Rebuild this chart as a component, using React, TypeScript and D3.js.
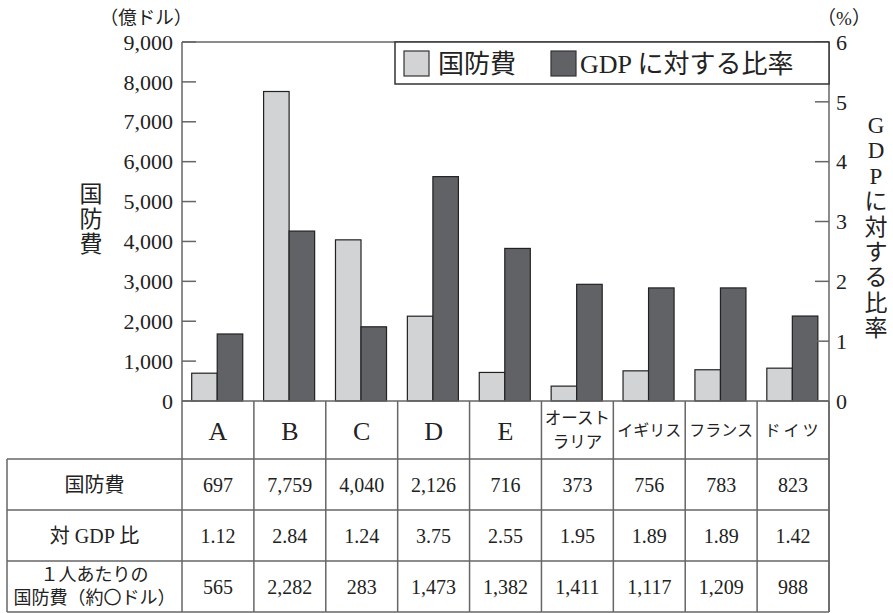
import { useEffect, useRef } from "react";
import * as d3 from "d3";

// data
const categories = ["A", "B", "C", "D", "E", "オーストラリア", "イギリス", "フランス", "ドイツ"];
const defense = [697, 7759, 4040, 2126, 716, 373, 756, 783, 823]; // 億ドル
const gdpRatio = [1.12, 2.84, 1.24, 3.75, 2.55, 1.95, 1.89, 1.89, 1.42]; // %
const perCapita = [565, 2282, 283, 1473, 1382, 1411, 1117, 1209, 988]; // ドル
const leftTicks = [0, 1000, 2000, 3000, 4000, 5000, 6000, 7000, 8000, 9000];
const rightTicks = [0, 1, 2, 3, 4, 5, 6];

const W = 893;
const H = 613;
const FONT = "'Liberation Serif', 'DejaVu Serif', 'Noto Sans CJK JP', serif";
const LIGHT = "#d2d3d5";
const DARK = "#616266";
const LINE = "#666";

export default function App() {
    const ref = useRef<SVGSVGElement | null>(null);

    useEffect(() => {
        document.body.style.margin = "0";
        if (!ref.current) return;
        const svg = d3.select(ref.current);
        svg.selectAll("*").remove();

        const left = 182, right = 829, top = 42, base = 401;
        const rowY = [459, 510, 561, 612];
        const tableLeft = 7;

        const x = d3.scaleBand<string>().domain(categories).range([left, right]).padding(0);
        const bw = x.bandwidth();
        const yL = d3.scaleLinear().domain([0, 9000]).range([base, top]);
        const yR = d3.scaleLinear().domain([0, 6]).range([base, top]);

        const g = svg.append("g").attr("font-family", FONT).attr("fill", "#222");

        // bars
        const barW = bw * 0.355;
        g.selectAll("rect.def")
            .data(categories)
            .enter()
            .append("rect")
            .attr("x", (d) => x(d)! + bw * 0.135)
            .attr("y", (d, i) => yL(defense[i]))
            .attr("width", barW)
            .attr("height", (d, i) => base - yL(defense[i]))
            .attr("fill", LIGHT)
            .attr("stroke", "#222")
            .attr("stroke-width", 1.2);
        g.selectAll("rect.gdp")
            .data(categories)
            .enter()
            .append("rect")
            .attr("x", (d) => x(d)! + bw * 0.135 + barW)
            .attr("y", (d, i) => yR(gdpRatio[i]))
            .attr("width", barW)
            .attr("height", (d, i) => base - yR(gdpRatio[i]))
            .attr("fill", DARK)
            .attr("stroke", "#222")
            .attr("stroke-width", 1.2);

        const line = (x1: number, y1: number, x2: number, y2: number, w = 1.5) =>
            g.append("line")
                .attr("x1", x1).attr("y1", y1).attr("x2", x2).attr("y2", y2)
                .attr("stroke", LINE).attr("stroke-width", w);

        // frame / axes
        line(left, top, right, top);
        line(left, top, left, rowY[3]);
        line(right, top, right, rowY[3]);
        line(left, base, right, base);
        leftTicks.forEach((t) => line(left, yL(t), left + 14, yL(t)));
        rightTicks.forEach((t) => line(right - 14, yR(t), right, yR(t)));

        // tick labels
        g.selectAll("text.lt")
            .data(leftTicks)
            .enter()
            .append("text")
            .attr("x", 173)
            .attr("y", (d) => yL(d))
            .attr("dy", "0.35em")
            .attr("text-anchor", "end")
            .attr("font-size", 22)
            .text((d) => d3.format(",")(d));
        g.selectAll("text.rt")
            .data(rightTicks)
            .enter()
            .append("text")
            .attr("x", 836)
            .attr("y", (d) => yR(d))
            .attr("dy", "0.35em")
            .attr("font-size", 22)
            .text((d) => String(d));

        g.append("text").attr("x", 146).attr("y", 18).attr("dy", "0.35em").attr("text-anchor", "middle")
            .attr("font-size", 18.5).text("（億ドル）");
        g.append("text").attr("x", 844).attr("y", 18).attr("dy", "0.35em").attr("text-anchor", "middle")
            .attr("font-size", 19).text("（%）");

        // axis titles (vertical)
        ["国", "防", "費"].forEach((c, i) =>
            g.append("text").attr("x", 91).attr("y", 194 + i * 25).attr("dy", "0.35em")
                .attr("text-anchor", "middle").attr("font-size", 23).text(c));
        ["G", "D", "P", "に", "対", "す", "る", "比", "率"].forEach((c, i) =>
            g.append("text").attr("x", 876).attr("y", 125 + i * 25.4).attr("dy", "0.35em")
                .attr("text-anchor", "middle").attr("font-size", 23).text(c));

        // legend
        g.append("rect").attr("x", 395).attr("y", top).attr("width", right - 395).attr("height", 42)
            .attr("fill", "#fff").attr("stroke", "#333").attr("stroke-width", 1.5);
        g.append("rect").attr("x", 404).attr("y", 51).attr("width", 25).attr("height", 25)
            .attr("fill", LIGHT).attr("stroke", "#333").attr("stroke-width", 1.2);
        g.append("text").attr("x", 438).attr("y", 64).attr("dy", "0.35em").attr("font-size", 26).text("国防費");
        g.append("rect").attr("x", 551).attr("y", 51).attr("width", 25).attr("height", 25)
            .attr("fill", DARK).attr("stroke", "#333").attr("stroke-width", 1.2);
        g.append("text").attr("x", 580).attr("y", 64).attr("dy", "0.35em").attr("font-size", 26).text("GDP に対する比率");

        // category row + table grid
        categories.forEach((c) => line(x(c)! + bw, base, x(c)! + bw, rowY[3]));
        line(tableLeft, rowY[0], tableLeft, rowY[3]);
        rowY.forEach((y) => line(tableLeft, y, right, y));

        categories.forEach((c) => {
            const cx = x(c)! + bw / 2;
            if (c.length === 1) {
                g.append("text").attr("x", cx).attr("y", 431).attr("dy", "0.35em")
                    .attr("text-anchor", "middle").attr("font-size", 26).text(c);
            } else if (c === "オーストラリア") {
                g.append("text").attr("x", cx).attr("y", 418).attr("dy", "0.35em")
                    .attr("text-anchor", "middle").attr("font-size", 16.5).text("オースト");
                g.append("text").attr("x", cx).attr("y", 442).attr("dy", "0.35em")
                    .attr("text-anchor", "middle").attr("font-size", 16.5).text("ラリア");
            } else {
                g.append("text").attr("x", cx).attr("y", 430).attr("dy", "0.35em")
                    .attr("text-anchor", "middle").attr("font-size", 16)
                    .attr("letter-spacing", c.length === 3 ? 3 : 0).text(c);
            }
        });

        // table row labels
        const labX = (tableLeft + left) / 2;
        g.append("text").attr("x", labX).attr("y", 485).attr("dy", "0.35em").attr("text-anchor", "middle")
            .attr("font-size", 20).text("国防費");
        g.append("text").attr("x", labX).attr("y", 536).attr("dy", "0.35em").attr("text-anchor", "middle")
            .attr("font-size", 20).text("対 GDP 比");
        g.append("text").attr("x", labX).attr("y", 575).attr("dy", "0.35em").attr("text-anchor", "middle")
            .attr("font-size", 18).text("１人あたりの");
        g.append("text").attr("x", labX).attr("y", 598).attr("dy", "0.35em").attr("text-anchor", "middle")
            .attr("font-size", 18).text("国防費（約〇ドル）");

        const rows = [
            { y: 485, vals: defense.map((v) => d3.format(",")(v)) },
            { y: 536, vals: gdpRatio.map((v) => v.toFixed(2)) },
            { y: 587, vals: perCapita.map((v) => d3.format(",")(v)) },
        ];
        rows.forEach((r) =>
            g.selectAll(null)
                .data(categories)
                .enter()
                .append("text")
                .attr("x", (d) => x(d)! + bw / 2)
                .attr("y", r.y)
                .attr("dy", "0.35em")
                .attr("text-anchor", "middle")
                .attr("font-size", 20)
                .text((d, i) => r.vals[i])
        );
    }, []);

    return <svg ref={ref} width={W} height={H} style={{ display: "block", background: "#fff" }} />;
}
